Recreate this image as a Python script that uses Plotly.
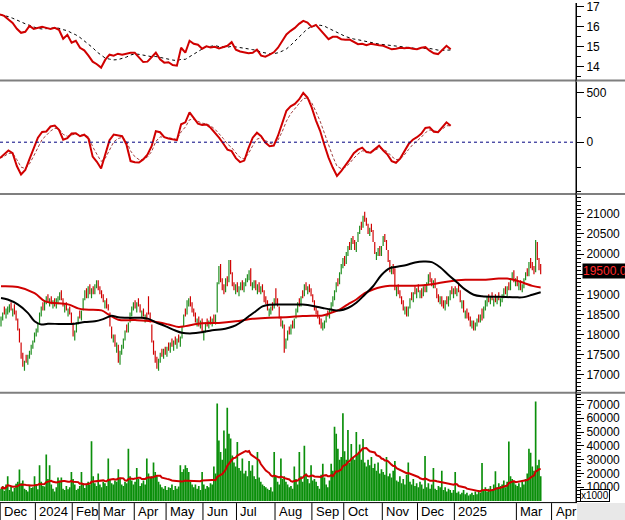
import numpy as np
import pandas as pd
import plotly.graph_objects as go

# ---------------- data ----------------
close = [
 18450,18550,18500,18650,18700,18750,18600,18650,18500,18350,
 18100,17800,17400,17200,17350,17300,17500,17600,17750,17850,
 18050,18150,18300,18550,18700,18600,18850,18950,18800,18900,
 18750,18850,18700,18900,18950,19050,18850,18700,18750,18600,
 18650,18500,18250,17950,18100,18300,18450,18400,18600,18900,
 19100,18900,19200,19000,19150,19000,19250,19350,19100,19000,
 18900,18800,18850,18650,18600,18200,17900,18000,17700,17800,
 17300,17600,17750,17900,18100,18050,18300,18550,18700,18800,
 18650,18800,18700,18550,18600,18450,18500,18350,18500,18300,
 17800,17500,17300,17150,17400,17550,17450,17650,17500,17700,
 17600,17800,17700,17850,17750,17900,17800,17950,18200,18500,
 18450,18850,18900,18700,18550,18450,18300,18400,18200,18350,
 18050,18100,18300,18200,18350,18250,18400,18300,18500,19300,
 19700,19300,19100,19000,19400,19200,19850,19500,19200,19100,
 19250,19050,19200,19300,19100,19300,19400,19500,19600,19200,
 19300,19350,19100,19250,19050,19200,19050,18800,18750,18600,
 18650,18700,18600,18900,18750,18700,18400,18200,18350,17550,
 17900,18100,18000,18250,18150,18400,18650,18800,18700,18950,
 18900,19250,19100,19200,19050,18950,18800,18600,18500,18400,
 18250,18150,18300,18350,18500,18450,18650,18800,18950,19100,
 19300,19200,19550,19750,19900,19700,20050,20200,20100,20400,
 20250,20100,20300,20550,20700,20600,20950,20800,20700,20500,
 20650,20550,20300,20000,20050,20150,19950,20200,20450,20300,
 20100,19800,19550,19700,19500,19100,19200,19000,18900,18750,
 18600,18700,18450,18700,18900,18850,19050,19000,19150,19050,
 19100,18900,19200,19050,19300,19500,19300,19200,19350,19150,
 18900,18800,18950,18700,18650,18850,18750,18950,19100,19000,
 19150,19000,19150,19050,18800,18850,18550,18600,18400,18350,
 18200,18350,18100,18300,18400,18300,18500,18350,18700,18850,
 18950,18800,18950,18850,18900,18800,18950,18850,18900,19000,
 19150,19000,19200,19100,19400,19550,19300,19400,19200,19300,
 19100,19250,19400,19550,19450,19800,19650,19600,19500,20350,
 19850,19600,19500]

open_ = [
 18200,18350,18700,18400,18500,18550,18800,18450,18750,18600,
 18400,18150,17800,17550,17100,17500,17250,17400,17500,17650,
 17800,17950,18050,18250,18450,18800,18600,18750,19000,18700,
 18950,18650,18900,18650,18750,18850,19100,18900,18550,18800,
 18450,18700,18550,18300,17850,18050,18250,18600,18350,18600,
 18850,19150,18900,19250,18900,19200,19000,19150,19350,19200,
 19100,19000,18650,18900,18750,18550,18200,17800,18000,17550,
 17750,17250,17500,17650,17850,18250,18050,18300,18450,18600,
 18850,18550,18900,18750,18400,18650,18300,18550,18950,18550,
 18250,17850,17600,17450,17100,17300,17650,17400,17700,17450,
 17800,17550,17900,17600,17950,17650,18000,17700,17900,18200,
 18650,18500,18700,18950,18800,18650,18550,18200,18450,18150,
 18400,17850,18050,18400,18150,18450,18200,18500,18250,18550,
 19250,19750,19400,19250,19050,19450,19300,19850,19550,19300,
 19000,19300,18950,19100,19350,19050,19200,19300,19350,19650,
 19100,19150,19350,19000,19300,19000,19250,19100,18950,18850,
 18450,18500,18800,18650,19150,18900,18700,18450,18150,18250,
 17650,17850,18200,18000,18350,18150,18400,18550,18900,18700,
 19100,18950,19300,19000,19250,19150,19000,18850,18700,18600,
 18450,18400,18100,18150,18300,18600,18400,18550,18700,18850,
 19050,19400,19250,19500,19650,19950,19750,19950,20300,20100,
 20450,20350,20050,20300,20500,20800,20650,21050,20900,20750,
 20450,20750,20600,20300,19850,19950,20200,19950,20200,20500,
 20350,20100,19850,19500,19750,19650,18950,19250,19100,18950,
 18850,18500,18700,18450,18650,19050,18800,19200,18900,19250,
 18900,19150,18950,19250,19050,19250,19550,19400,19150,19400,
 19150,19000,18750,18950,18850,18600,18950,18700,18850,19200,
 18900,19200,18950,19250,19100,18650,18850,18400,18650,18550,
 18450,18150,18350,18100,18200,18500,18300,18650,18400,18600,
 18700,19000,18750,19050,18700,19000,18750,19050,18700,18800,
 18900,19200,18950,19300,19100,19350,19600,19200,19450,19100,
 19350,19050,19150,19350,19650,19450,19900,19800,19700,19550,
 20300,19900,19750]

# volume, thousands of shares
volume = [
 9000,11000,7500,12000,18000,8000,10500,7000,9500,12500,
 14000,22800,13000,15000,9000,8000,7000,11000,9500,10000,
 18000,12000,8500,25900,14000,11000,10500,33800,16000,25900,
 12000,9000,7000,10000,17000,15000,17000,9000,8000,11000,
 8500,10000,21000,16000,12000,8000,9000,11000,21000,13000,
 9500,12000,14000,12000,43400,18000,13000,11000,20000,12000,
 10000,14000,13000,11000,30800,16000,13000,12000,15000,14000,
 23000,17000,12000,11000,14000,13000,37900,18000,15000,12000,
 14000,24000,16000,11000,13000,15000,12000,30800,20000,17000,
 18000,28000,21000,18000,14000,12000,10000,9000,11000,8000,
 10000,9500,12000,8000,11000,9000,10500,25900,21000,23000,
 26000,24000,21000,14000,12000,10000,12000,9000,11000,8000,
 21000,12000,9000,11000,10000,13000,12000,25000,20000,70700,
 43900,35600,30000,51100,38000,67600,48700,45300,33000,28000,
 25000,42700,24000,22000,30800,20000,22000,18000,29000,22000,
 25900,18000,16000,35600,17000,14000,12000,11000,10000,9000,
 8000,10000,7000,35600,18000,14000,12000,30800,16000,18000,
 14000,12000,10000,11000,9000,25000,16000,12000,35600,18000,
 14000,40000,20000,16000,13000,26000,15000,16000,14000,11000,
 9000,19000,27000,17000,12000,10000,15000,27000,22000,53800,
 48700,37900,30000,32000,63500,36000,30000,51500,28000,41400,
 32000,30000,50000,34000,41000,30000,45000,28000,25000,30000,
 26000,32000,24000,27000,22000,28000,20000,23000,21000,19000,
 31900,18000,20000,17000,22000,29000,15000,14000,18000,13000,
 16000,12000,19000,28000,14000,12000,16000,11000,13000,10000,
 14000,12000,9000,32600,10000,13000,9000,12000,24000,9000,
 8000,11000,10000,22000,8000,10000,7000,9000,8000,6000,
 8000,21000,6000,7000,5000,6000,8000,5000,6000,4000,
 5000,6000,4500,7000,5000,8000,6000,27600,8000,10000,
 7000,9000,11000,8000,12000,21600,10000,13000,11000,12000,
 15000,10000,14000,43100,18000,16000,14000,12000,11000,13000,
 10000,14000,12000,16000,20000,37900,35000,25000,22000,72000,
 26000,30000,18000]

# long moving average (red) and medium moving average (black), read at sample days
ma_red_day = [0,10,20,26,30,40,46,50,60,64,70,80,90,100,106,110,120,130,140,150,
              160,170,180,187,192,197,202,207,212,217,222,227,232,237,247,257,267,277,
              287,297,302,307,312,317,322]
ma_red = [19200,19180,19030,18830,18790,18750,18650,18620,18600,18500,18370,18360,
          18330,18250,18190,18210,18280,18290,18330,18390,18420,18430,18460,18470,
          18475,18540,18620,18750,18870,19030,19120,19180,19210,19215,19215,19250,
          19320,19360,19360,19390,19390,19350,19280,19210,19170]
ma_black_day = [0,4,10,16,20,24,28,36,44,50,56,60,64,66,70,76,84,88,92,98,
                104,108,114,120,126,132,136,140,144,148,152,156,160,170,180,187,192,197,202,207,
                212,217,222,227,232,237,242,247,252,257,262,267,272,277,282,287,297,307,312,317,322]
ma_black = [18910,18870,18750,18540,18330,18250,18270,18260,18270,18310,
            18330,18370,18440,18465,18430,18415,18415,18390,18310,18210,
            18100,18045,18030,18060,18110,18130,18170,18230,18330,18460,
            18580,18700,18740,18745,18745,18705,18660,18620,18600,18660,
            18790,18990,19200,19480,19650,19690,19730,19790,19815,19800,
            19670,19480,19300,19115,18990,18950,18940,18925,18930,18990,19050]

# upper panels sampled every 3 sessions
sample_step = 3
pe_ratio = [
 16.62,16.55,16.37,16.2,15.9,15.7,15.75,16.05,15.9,15.95,
 16.0,15.95,15.9,15.95,15.85,15.4,15.6,15.2,15.3,14.95,
 14.82,14.55,14.25,14.12,13.95,14.35,14.6,14.55,14.65,14.6,
 14.65,14.7,14.7,14.48,14.23,14.25,14.5,14.7,14.37,14.2,
 14.22,14.08,14.05,14.95,14.7,15.3,15.15,15.1,14.9,15.02,
 14.96,15.0,14.92,14.98,15.05,15.23,14.85,14.76,14.7,14.67,
 14.7,14.85,14.55,14.5,14.6,14.72,14.95,15.3,15.62,15.8,
 15.95,16.15,16.3,16.22,16.0,16.1,15.85,15.65,15.38,15.5,
 15.5,15.38,15.35,15.36,15.25,15.13,15.15,15.08,15.15,15.1,
 15.08,15.05,14.97,14.87,14.9,14.95,14.93,14.95,14.9,14.88,
 14.95,14.98,14.8,14.67,14.63,14.85,15.05,14.87]
macd = [
 -160,-125,-83,-110,-240,-325,-280,-170,-60,45,
 103,108,158,167,125,25,40,87,90,60,
 75,37,-145,-197,-265,-130,20,77,70,60,
 -20,-190,-202,-205,-173,-125,-40,110,100,50,
 37,28,20,180,200,300,237,187,173,178,
 145,100,45,-13,-75,-90,-160,-200,-185,-60,
 45,95,60,-3,-40,-35,65,190,317,360,
 385,430,495,450,350,220,115,-25,-155,-255,
 -340,-290,-235,-175,-110,-75,-55,-100,-105,-65,
 -35,-83,-125,-190,-207,-165,-85,-20,25,50,
 85,143,150,105,100,155,200,165]

month_labels = ["Dec","2024","Feb","Mar","Apr","May","Jun","Jul","Aug","Sep",
                "Oct","Nov","Dec","2025","Mar","Apr"]
month_starts = [0,21,43,59,80,99,121,141,164,186,205,228,249,271,308,329]

price_ticks = [17000,17500,18000,18500,19000,19500,20000,20500,21000]
vol_ticks = [10000,20000,30000,40000,50000,60000,70000]
pe_ticks = [14,15,16,17]
macd_ticks = [0,500]

# ---------------- derived ----------------
GREEN = "#1c8c1c"
RED = "#d00000"
FONT = "Liberation Sans, Arial, sans-serif"

days = np.arange(len(close))
o = np.array(open_, dtype=float)
c = np.array(close, dtype=float)
lo = np.minimum(o, c)
hi = np.maximum(o, c)
bar_colors = np.where(c >= o, GREEN, RED)
vol = np.array(volume, dtype=float)
vol_ma = pd.Series(vol).rolling(20, min_periods=1).mean()

sdays = np.arange(len(pe_ratio)) * sample_step
pe_ma = pd.Series(pe_ratio).rolling(7, min_periods=1).mean()
macd_sig = pd.Series(macd).ewm(span=3, adjust=False).mean()

fig = go.Figure()

# panel 1: PE
fig.add_trace(go.Scatter(x=sdays, y=pe_ma, mode="lines",
                         line=dict(color="black", width=1, dash="3px,3px"),
                         xaxis="x", yaxis="y"))
fig.add_trace(go.Scatter(x=sdays, y=pe_ratio, mode="lines",
                         line=dict(color=RED, width=2), xaxis="x", yaxis="y"))
# panel 2: MACD
fig.add_trace(go.Scatter(x=sdays, y=macd_sig, mode="lines",
                         line=dict(color="#a04040", width=1, dash="3px,2px"),
                         xaxis="x2", yaxis="y2"))
fig.add_trace(go.Scatter(x=sdays, y=macd, mode="lines",
                         line=dict(color=RED, width=2), xaxis="x2", yaxis="y2"))
# panel 3: price
fig.add_trace(go.Bar(x=days, y=hi - lo, base=lo, marker=dict(color=bar_colors, line=dict(width=0)),
                     width=0.7, xaxis="x3", yaxis="y3"))
fig.add_trace(go.Scatter(x=ma_red_day, y=ma_red, mode="lines", line_shape="spline",
                         line=dict(color=RED, width=2), xaxis="x3", yaxis="y3"))
fig.add_trace(go.Scatter(x=ma_black_day, y=ma_black, mode="lines", line_shape="spline",
                         line=dict(color="black", width=2), xaxis="x3", yaxis="y3"))
# panel 4: volume
fig.add_trace(go.Bar(x=days, y=vol, marker=dict(color="#0b8f0b", line=dict(width=0)),
                     width=1.0, xaxis="x4", yaxis="y4"))
fig.add_trace(go.Scatter(x=days, y=vol_ma, mode="lines",
                         line=dict(color=RED, width=2), xaxis="x4", yaxis="y4"))

W, H = 625, 520
PLOT_R = 576
def py(px):
    return 1 - px / H

top_range = [0, PLOT_R / 1.404]
bot_range = [-0.6, -0.6 + PLOT_R / 1.676]

xcommon = dict(visible=False, showgrid=False, zeroline=False, domain=[0, 1])
ycommon = dict(side="right", showline=True, linecolor="black", linewidth=1,
               ticks="outside", ticklen=7, tickcolor="black", showgrid=False,
               zeroline=False, ticklabeloverflow="allow",
               tickfont=dict(family=FONT, size=12, color="black"))

fig.update_layout(
    width=W, height=H, margin=dict(l=0, r=W - PLOT_R, t=0, b=0),
    paper_bgcolor="white", plot_bgcolor="white", showlegend=False,
    barmode="overlay", hovermode=False, font=dict(family=FONT, color="black"),
    xaxis=dict(xcommon, range=top_range, anchor="y"),
    xaxis2=dict(xcommon, range=top_range, anchor="y2"),
    xaxis3=dict(xcommon, range=bot_range, anchor="y3"),
    xaxis4=dict(xcommon, range=bot_range, anchor="y4"),
    yaxis=dict(ycommon, domain=[py(77), 1], range=[13.35, 17.2], anchor="x",
               tickvals=pe_ticks, minor=dict(dtick=0.5, ticklen=4, ticks="outside", tickcolor="black")),
    yaxis2=dict(ycommon, domain=[py(191), py(79)], range=[-510, 610], anchor="x2",
                tickvals=macd_ticks, minor=dict(dtick=250, ticklen=4, ticks="outside", tickcolor="black")),
    yaxis3=dict(ycommon, domain=[py(391), py(193)], range=[16580, 21469], anchor="x3",
                tickvals=price_ticks, tickformat="d",
                minor=dict(dtick=100, ticklen=4, ticks="outside", tickcolor="black")),
    yaxis4=dict(ycommon, domain=[py(502), py(393)], range=[-720, 77700], anchor="x4",
                tickvals=vol_ticks, tickformat="d",
                minor=dict(dtick=2500, ticklen=4, ticks="outside", tickcolor="black")),
)

shapes = []
# panel separators
for ypx in (78, 192, 392):
    shapes.append(dict(type="line", xref="paper", yref="paper", x0=0, x1=W / PLOT_R,
                       y0=py(ypx), y1=py(ypx), line=dict(color="#7f7f7f", width=2)))
# MACD zero line
shapes.append(dict(type="line", xref="paper", yref="y2", x0=0, x1=1, y0=0, y1=0,
                   line=dict(color="#000080", width=1, dash="dot")))
# date row
shapes.append(dict(type="rect", xref="paper", yref="paper", x0=577 / PLOT_R, x1=W / PLOT_R,
                   y0=0, y1=py(503), fillcolor="#e8e8e8", line=dict(width=0), layer="below"))
shapes.append(dict(type="line", xref="paper", yref="paper", x0=0, x1=577 / PLOT_R,
                   y0=py(502.5), y1=py(502.5), line=dict(color="black", width=1)))
shapes.append(dict(type="line", xref="paper", yref="paper", x0=1, x1=1,
                   y0=py(502.5), y1=1, line=dict(color="black", width=1)))
for s in month_starts:
    shapes.append(dict(type="line", xref="x4", yref="paper", x0=s - 0.5, x1=s - 0.5,
                       y0=0, y1=py(503), line=dict(color="black", width=1)))
fig.update_layout(shapes=shapes)

ann = []
for lab, s in zip(month_labels, month_starts):
    ann.append(dict(x=s - 0.5, y=py(511.5), xref="x4", yref="paper", text=lab,
                    showarrow=False, xanchor="left", yanchor="middle", xshift=2,
                    font=dict(family=FONT, size=13, color="black")))
ann.append(dict(x=582 / PLOT_R, y=close[-1], xref="paper", yref="y3", text=f"{close[-1]:.2f}",
                showarrow=False, xanchor="left", yanchor="middle", yshift=3,
                bgcolor="black", borderpad=0, font=dict(family=FONT, size=12, color="#ff2a2a")))
ann.append(dict(x=580 / PLOT_R, y=py(502), xref="paper", yref="paper", text="x1000",
                showarrow=False, xanchor="left", yanchor="bottom", bgcolor="white",
                bordercolor="black", borderwidth=1, borderpad=0,
                font=dict(family=FONT, size=10, color="black")))
fig.update_layout(annotations=ann)

fig.write_html("out.html", config={"displayModeBar": False, "staticPlot": True},
               post_script="document.body.style.margin='0';document.body.style.padding='0';")
